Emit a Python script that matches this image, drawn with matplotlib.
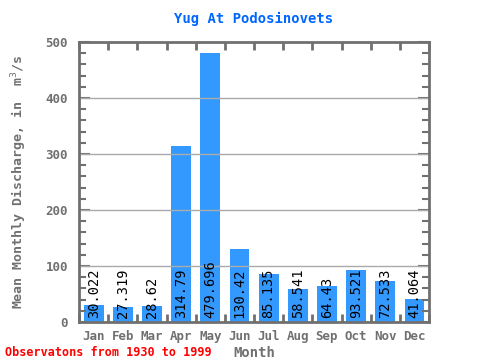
import matplotlib
matplotlib.use("Agg")
import matplotlib.pyplot as plt
from matplotlib.ticker import MultipleLocator

months = ["Jan", "Feb", "Mar", "Apr", "May", "Jun", "Jul", "Aug", "Sep", "Oct", "Nov", "Dec"]
flows = [30.022, 27.319, 28.62, 314.79, 479.696, 130.42, 85.135, 58.541, 64.43, 93.521, 72.533, 41.064]
labels = ["30.022", "27.319", "28.62", "314.79", "479.696", "130.42", "85.135", "58.541", "64.43", "93.521", "72.533", "41.064"]

plt.rcParams["font.family"] = ["DejaVu Sans Mono"]
grey = "#707070"

fig = plt.figure(figsize=(4.8, 3.6), dpi=100)
ax = fig.add_axes([0.1646, 0.1056, 0.7292, 0.7778])

x = list(range(12))
ax.bar(x, flows, width=0.68, color="#3399ff", zorder=1)
for i in range(12):
    ax.text(x[i], 7, labels[i], rotation=90, ha="center", va="bottom",
            fontsize=9.8, color="black", zorder=3)

ax.set_xlim(-0.5, 11.5)
ax.set_ylim(0, 500)
for yv in [100, 200, 300, 400]:
    ax.axhline(yv, color="#aaaaaa", lw=1, zorder=2)

for s in ax.spines.values():
    s.set_color(grey)
    s.set_linewidth(2)

ax.set_xticks(x)
ax.set_xticklabels(months)
ax.xaxis.set_minor_locator(MultipleLocator(1, offset=0.5))
ax.tick_params(axis="x", which="major", length=0, pad=6, labelsize=9, labelcolor=grey)
ax.tick_params(axis="x", which="minor", direction="in", length=6, width=2, color=grey,
               top=True, bottom=True)
ax.set_yticks([0, 100, 200, 300, 400, 500])
ax.yaxis.set_minor_locator(MultipleLocator(20))
ax.tick_params(axis="y", which="major", direction="in", length=8, width=1.5, color=grey,
               labelsize=9, labelcolor=grey, right=True, pad=8)
ax.tick_params(axis="y", which="minor", direction="in", length=5, width=1.5, color=grey, right=True)
for t in ax.get_xticklabels() + ax.get_yticklabels():
    t.set_fontweight("bold")

ax.set_title("Yug At Podosinovets", color="#0066ff", fontsize=10, fontweight="bold", pad=14)
ax.set_xlabel("Month", color=grey, fontsize=10, fontweight="bold", labelpad=2)
ax.set_ylabel("Mean Monthly Discharge, in  m$^3$/s", color=grey, fontsize=9.5,
              fontweight="bold", labelpad=12)
fig.text(0.01, 0.012, "Observatons from 1930 to 1999", color="red", fontsize=8.5, fontweight="bold")

fig.savefig("out.png", dpi=100)
